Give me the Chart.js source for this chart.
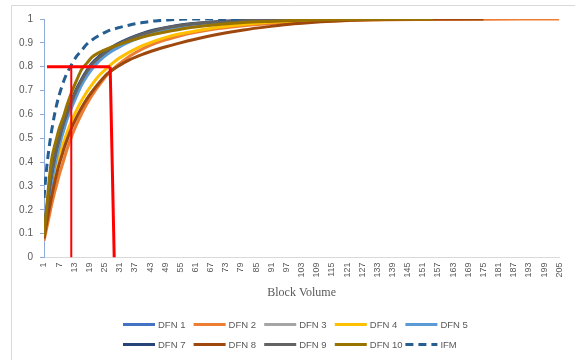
<!DOCTYPE html>
<html><head><meta charset="utf-8">
<script src="https://cdn.jsdelivr.net/npm/chart.js@4.4.1/dist/chart.umd.min.js"></script>
<style>html,body{margin:0;padding:0;background:#fff}#wrap{width:575px;height:360px;position:relative}</style>
</head><body><div id="wrap"><canvas id="c" width="575" height="360"></canvas></div>
<script>
// Block volume categories (sampled)
const blockVolume = [1,2,3,4,5,6,7,8,9,10,12,14,16,18,20,23,26,30,35,40,45,50,55,60,70,80,90,100,115,130,155,175,205];
const xTickLabels = [1,7,13,19,25,31,37,43,49,55,61,67,73,79,85,91,97,103,109,115,121,127,133,139,145,151,157,163,169,175,181,187,193,199,205];
const yTickLabels = ['0','0.1','0.2','0.3','0.4','0.5','0.6','0.7','0.8','0.9','1'];
const seriesNames = ['DFN 1','DFN 2','DFN 3','DFN 4','DFN 5','DFN 7','DFN 8','DFN 9','DFN 10','IFM'];

const dfn1  = [0.09,0.17,0.25,0.32,0.38,0.43,0.475,0.515,0.55,0.585,0.64,0.69,0.735,0.77,0.8,0.835,0.86,0.885,0.912,0.932,0.948,0.96,0.97,0.977,0.986,0.992,0.995,0.998,1,null,null,null,null];
const dfn2  = [0.07,0.12,0.17,0.22,0.265,0.305,0.345,0.38,0.415,0.45,0.51,0.56,0.605,0.645,0.68,0.725,0.765,0.805,0.845,0.875,0.898,0.915,0.93,0.942,0.96,0.972,0.98,0.986,0.992,0.996,0.998,0.999,1];
const dfn3  = [0.1,0.18,0.26,0.33,0.39,0.44,0.485,0.525,0.56,0.59,0.645,0.695,0.74,0.775,0.805,0.84,0.865,0.89,0.915,0.935,0.95,0.962,0.971,0.978,0.987,0.993,0.996,0.998,1,null,null,null,null];
const dfn4  = [0.08,0.15,0.22,0.28,0.33,0.38,0.42,0.46,0.49,0.52,0.575,0.62,0.66,0.695,0.725,0.765,0.795,0.83,0.862,0.888,0.908,0.925,0.938,0.948,0.965,0.977,0.986,0.992,0.997,1,null,null,null];
const dfn5  = [0.08,0.16,0.24,0.31,0.37,0.42,0.465,0.505,0.54,0.575,0.63,0.68,0.725,0.76,0.79,0.825,0.852,0.878,0.905,0.926,0.943,0.956,0.966,0.974,0.984,0.99,0.994,0.997,1,null,null,null,null];
const dfn7  = [0.1,0.19,0.28,0.35,0.41,0.46,0.5,0.54,0.575,0.605,0.66,0.71,0.75,0.785,0.815,0.845,0.87,0.895,0.92,0.94,0.955,0.966,0.975,0.981,0.989,0.994,0.997,0.999,1,1,null,null,null];
const dfn8  = [0.08,0.14,0.2,0.255,0.305,0.35,0.39,0.425,0.46,0.49,0.545,0.59,0.63,0.665,0.695,0.735,0.77,0.8,0.83,0.852,0.87,0.886,0.9,0.913,0.936,0.954,0.968,0.98,0.991,0.997,1,1,null];
const dfn9  = [0.12,0.2,0.28,0.35,0.405,0.455,0.495,0.535,0.57,0.6,0.655,0.705,0.745,0.78,0.81,0.84,0.866,0.892,0.917,0.937,0.952,0.964,0.973,0.98,0.988,0.993,0.996,0.999,1,1,null,null,null];
const dfn10 = [0.09,0.2,0.32,0.41,0.46,0.5,0.54,0.57,0.6,0.635,0.695,0.745,0.79,0.815,0.84,0.86,0.875,0.89,0.908,0.924,0.937,0.948,0.957,0.965,0.977,0.985,0.99,0.994,0.997,0.999,1,null,null];
const ifm   = [0.25,0.37,0.46,0.53,0.59,0.64,0.68,0.715,0.745,0.77,0.81,0.845,0.87,0.895,0.912,0.932,0.948,0.962,0.975,0.985,0.992,0.996,0.999,1,1,1,null,null,null,null,null,null,null];

// Red guide lines (block volume, cumulative value)
const guideH     = [[2.2,0.8],[27.2,0.8]];
const guideThin  = [[11.8,0.8],[11.8,0]];
const guideThick = [[27.2,0.8],[28.8,0]];

const colors = ['#4472C4','#ED7D31','#A5A5A5','#FFC000','#5B9BD5','#264478','#9E480E','#636363','#997300','#255E91'];
const allSeries = [dfn1,dfn2,dfn3,dfn4,dfn5,dfn7,dfn8,dfn9,dfn10,ifm];

const datasets = allSeries.map((d,i)=>({
  label: seriesNames[i], data: d, borderColor: colors[i], backgroundColor: colors[i],
  borderWidth: 3, borderDash: i===9 ? [8,5] : [], order: 20-i, inLegend: true,
  cubicInterpolationMode: 'monotone', pointRadius: 0, spanGaps: false
}));
const mk = (pts,w)=>({label:'', data: pts.map(p=>({x:p[0],y:p[1]})), borderColor:'#FF0000', borderWidth:w, order:0, pointRadius:0, tension:0, inLegend:false});
datasets.push(mk(guideH,3), mk(guideThin,2), mk(guideThick,3));

const frame = {
  id:'frame',
  beforeDraw(chart){
    const c = chart.ctx; c.save();
    c.fillStyle='#fff'; c.fillRect(0,0,chart.width,chart.height);
    c.strokeStyle='#D9D9D9'; c.lineWidth=1;
    c.beginPath(); c.moveTo(11.5,365); c.lineTo(11.5,5.5); c.lineTo(580,5.5); c.stroke();
    c.restore();
  }
};
const customLegend = {
  id:'customLegend',
  afterDraw(chart){
    const c = chart.ctx; c.save();
    const items = chart.data.datasets.filter(d=>d.inLegend);
    items.forEach((d,i)=>{
      const col = i%5, row = Math.floor(i/5);
      const x = 123 + col*70.6, y = 324.5 + row*20;
      c.strokeStyle = d.borderColor; c.lineWidth = 3; c.setLineDash(d.borderDash||[]);
      c.beginPath(); c.moveTo(x,y); c.lineTo(x+32,y); c.stroke();
      c.setLineDash([]);
      c.fillStyle='#595959'; c.font='9.5px "Liberation Sans", Arial, sans-serif';
      c.textBaseline='middle'; c.textAlign='left';
      c.fillText(d.label, x+35, y+0.5);
    });
    c.restore();
  }
};

new Chart(document.getElementById('c'), {
  type:'line',
  data:{labels: blockVolume, datasets},
  options:{
    responsive:false, animation:false,
    layout:{padding:{top:19,right:10,left:0,bottom:0}},
    plugins:{legend:{display:false}, tooltip:{enabled:false}},
    scales:{
      x:{type:'linear', min:1, max:205,
        afterBuildTicks: s=>{ s.ticks = xTickLabels.map(v=>({value:v})); },
        ticks:{autoSkip:false, minRotation:90, maxRotation:90, padding:5, color:'#595959',
          font:{size:9, family:'"Liberation Sans", Arial, sans-serif'}, callback: v=>String(v)},
        grid:{display:false, drawTicks:false},
        border:{display:true, color:'#D9D9D9'},
        title:{display:true, text:'Block Volume', color:'#595959',
          font:{family:'"Liberation Serif", "Times New Roman", serif', size:12}, padding:{top:0,bottom:60}},
        afterFit: s=>{ s.height = 102.5; }
      },
      y:{min:0, max:1,
        ticks:{stepSize:0.1, padding:7, color:'#595959', font:{size:10, family:'"Liberation Sans", Arial, sans-serif'},
          callback:(v)=>yTickLabels[Math.round(v*10)]},
        grid:{drawOnChartArea:false, drawTicks:true, tickLength:4, color:'#8FAADC'},
        border:{display:true, color:'#8FAADC'},
        afterFit: s=>{ s.width = 44; }
      }
    }
  },
  plugins:[frame, customLegend]
});
</script></body></html>
